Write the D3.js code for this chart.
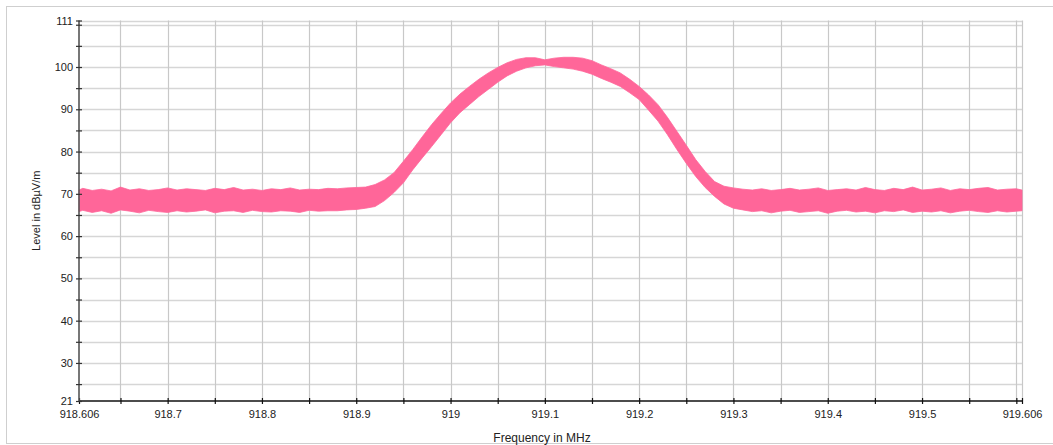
<!DOCTYPE html>
<html>
<head>
<meta charset="utf-8">
<script src="https://cdn.jsdelivr.net/npm/d3@7"></script>
<style>
  html, body { margin: 0; padding: 0; background: #fff; }
  svg { display: block; font-family: "Liberation Sans", Arial, sans-serif; }
</style>
</head>
<body>
<svg id="chart" width="1053" height="445"></svg>
<script>
// ---- Data ----
const freqMHz = [918.606,918.61,918.62,918.63,918.64,918.65,918.66,918.67,918.68,918.69,
  918.70,918.71,918.72,918.73,918.74,918.75,918.76,918.77,918.78,918.79,
  918.80,918.81,918.82,918.83,918.84,918.85,918.86,918.87,918.88,918.89,
  918.90,918.91,918.92,918.93,918.94,918.95,918.96,918.97,918.98,918.99,
  919.00,919.01,919.02,919.03,919.04,919.05,919.06,919.07,919.08,919.09,
  919.10,919.11,919.12,919.13,919.14,919.15,919.16,919.17,919.18,919.19,
  919.20,919.21,919.22,919.23,919.24,919.25,919.26,919.27,919.28,919.29,
  919.30,919.31,919.32,919.33,919.34,919.35,919.36,919.37,919.38,919.39,
  919.40,919.41,919.42,919.43,919.44,919.45,919.46,919.47,919.48,919.49,
  919.50,919.51,919.52,919.53,919.54,919.55,919.56,919.57,919.58,919.59,
  919.60,919.606];
const levelUpper = [70.9,71.3,70.8,71.1,70.7,71.6,70.9,71.2,70.8,71.0,
  71.4,70.9,71.2,71.0,70.8,71.3,71.0,71.5,70.9,71.1,
  70.8,71.2,71.0,71.4,70.9,71.1,71.0,71.3,71.2,71.4,
  71.5,71.6,72.2,73.3,75.0,77.7,80.5,83.5,86.4,89.0,
  91.5,93.6,95.4,97.1,98.6,99.9,101.0,101.8,102.2,102.2,
  101.7,102.1,102.3,102.3,102.1,101.5,100.5,99.6,98.6,97.1,
  95.4,93.4,91.1,88.1,84.8,81.5,78.1,75.3,72.9,71.8,
  71.4,71.1,70.9,71.2,70.8,71.0,71.3,70.9,71.1,71.4,
  70.8,71.0,71.2,70.9,71.5,71.0,70.8,71.3,71.0,71.6,
  70.9,71.1,71.4,70.8,71.2,71.0,71.3,71.5,70.9,71.1,
  71.2,70.9];
const levelLower = [65.8,66.1,65.6,66.0,65.4,66.2,65.9,65.5,66.1,65.8,
  65.6,66.0,65.7,65.9,66.2,65.5,65.9,66.0,65.6,66.1,
  65.8,65.7,66.0,65.9,65.6,66.1,65.9,66.0,66.0,66.2,
  66.3,66.6,67.0,68.4,70.3,72.6,75.7,78.5,81.2,84.0,
  86.8,89.2,91.1,93.0,94.7,96.4,97.9,99.0,99.8,100.3,
  100.5,100.1,99.8,99.5,99.0,98.3,97.3,96.4,95.4,93.9,
  92.3,89.8,87.2,84.0,80.5,77.2,74.1,71.5,69.4,67.6,
  66.6,66.2,65.8,66.0,65.5,65.9,66.1,65.6,65.8,66.0,
  65.4,65.9,66.1,65.7,65.9,65.5,66.0,65.8,66.2,65.6,
  65.9,65.7,66.0,65.5,65.9,66.1,65.8,65.6,66.0,65.7,
  65.9,66.0];

const xMajorTicks = [918.606,918.7,918.8,918.9,919,919.1,919.2,919.3,919.4,919.5,919.606];
const xMinorTicks = [918.65,918.75,918.85,918.95,919.05,919.15,919.25,919.35,919.45,919.55,919.6];
const yMajorTicks = [21,30,40,50,60,70,80,90,100,111];
const yMinorTicks = [25,35,45,55,65,75,85,95,105,110];
const xTitle = "Frequency in MHz";
const yTitle = "Level in dBµV/m";

// ---- Layout ----
const svg = d3.select("#chart");
const pLeft = 79, pRight = 1022, pTop = 20.5, pBottom = 401;
const x = d3.scaleLinear().domain([918.606, 919.606]).range([pLeft, pRight]);
const y = d3.scaleLinear().domain([21, 111]).range([pBottom, pTop]);

// outer frame
svg.append("rect").attr("x", 6.5).attr("y", 6.5).attr("width", 1052).attr("height", 437)
  .attr("fill", "#fff").attr("stroke", "#cfcfcf").attr("stroke-width", 1);

// grid
const allX = xMajorTicks.concat(xMinorTicks).filter(v => v !== 918.606);
const allY = yMajorTicks.concat(yMinorTicks).filter(v => v !== 21);
svg.append("g").selectAll("line").data(allY).join("line")
  .attr("x1", pLeft).attr("x2", pRight)
  .attr("y1", d => Math.round(y(d)) + 0.5).attr("y2", d => Math.round(y(d)) + 0.5)
  .attr("stroke", "#d6d6d6").attr("stroke-width", 1.3);
svg.append("g").selectAll("line").data(allX).join("line")
  .attr("x1", d => Math.round(x(d)) + 0.5).attr("x2", d => Math.round(x(d)) + 0.5)
  .attr("y1", pTop).attr("y2", pBottom)
  .attr("stroke", "#c8c8c8").attr("stroke-width", 1.2);

// trace band
const rows = freqMHz.map((f, i) => ({f, hi: levelUpper[i], lo: levelLower[i]}));
const area = d3.area()
  .x(d => x(d.f)).y0(d => y(d.lo)).y1(d => y(d.hi))
  .curve(d3.curveLinear);
svg.append("path").datum(rows).attr("d", area)
  .attr("fill", "#ff6699").attr("stroke", "#ff6699").attr("stroke-width", 0.8);

// axes
const tickFont = 11;
const xAxis = d3.axisBottom(x).tickValues(xMajorTicks.concat(xMinorTicks))
  .tickSize(3).tickFormat(d => xMajorTicks.includes(d) ? String(d) : "");
const gx = svg.append("g").attr("transform", `translate(0,${pBottom})`).call(xAxis);
gx.select(".domain").attr("stroke", "#111").attr("stroke-width", 1.3).attr("d", `M${pLeft},0H${pRight}`);
gx.selectAll(".tick line").attr("y1", -3).attr("y2", 3).attr("stroke", "#111").attr("stroke-width", 1.2);
gx.selectAll(".tick text").attr("y", 9).attr("font-size", tickFont).attr("fill", "#222")
  .attr("font-family", "Liberation Sans, Arial, sans-serif");

const yAxis = d3.axisLeft(y).tickValues(yMajorTicks.concat(yMinorTicks))
  .tickSize(3).tickFormat(d => yMajorTicks.includes(d) ? String(d) : "");
const gy = svg.append("g").attr("transform", `translate(${pLeft},0)`).call(yAxis);
gy.select(".domain").attr("stroke", "#555").attr("stroke-width", 1.6).attr("d", `M0,${pBottom}V${pTop}`);
gy.selectAll(".tick line").attr("x1", -3).attr("x2", 3).attr("stroke", "#333").attr("stroke-width", 1.2);
gy.selectAll(".tick text").attr("x", -6).attr("font-size", tickFont).attr("fill", "#222")
  .attr("font-family", "Liberation Sans, Arial, sans-serif");

// titles
svg.append("text").attr("x", 542).attr("y", 442).attr("text-anchor", "middle")
  .attr("font-size", 12).attr("fill", "#222").text(xTitle);
svg.append("text").attr("transform", `translate(40,${(pTop + pBottom) / 2}) rotate(-90)`)
  .attr("text-anchor", "middle").attr("font-size", 11).attr("fill", "#222").text(yTitle);
</script>
</body>
</html>
